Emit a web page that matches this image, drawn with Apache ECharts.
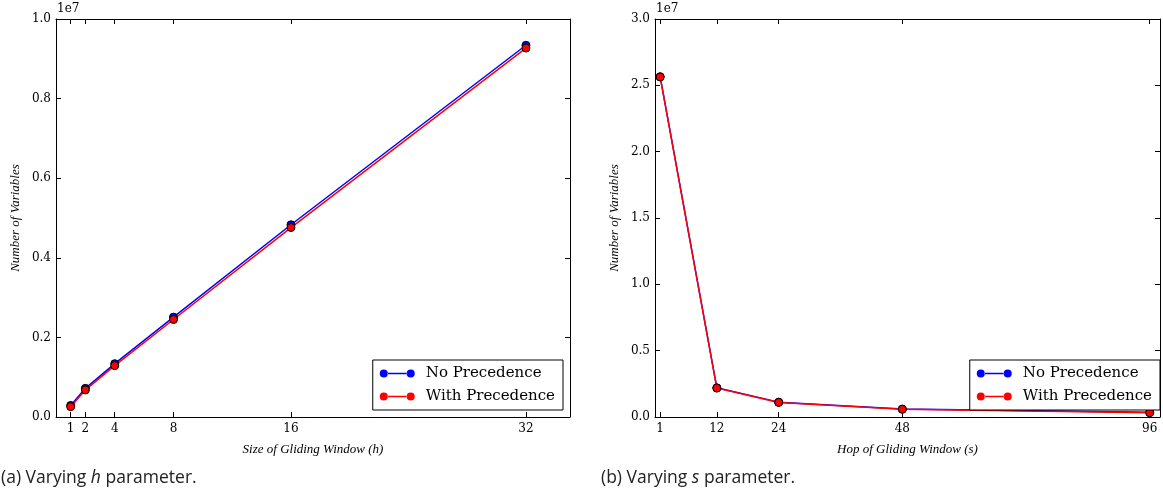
<!DOCTYPE html>
<html>
<head>
<meta charset="utf-8">
<script src="https://cdn.jsdelivr.net/npm/echarts@6/dist/echarts.min.js"></script>
<style>html,body{margin:0;padding:0;background:#fff}#c{width:1163px;height:493px}</style>
</head>
<body>
<div id="c"></div>
<script>
// ---- data ----
const hValues = [1, 2, 4, 8, 16, 32];
const hNoPrec = [0.29e6, 0.72e6, 1.34e6, 2.51e6, 4.83e6, 9.34e6];
const hWithPrec = [0.26e6, 0.68e6, 1.29e6, 2.45e6, 4.76e6, 9.27e6];
const sValues = [1, 12, 24, 48, 96];
const sNoPrec = [2.565e7, 0.22e7, 0.112e7, 0.06e7, 0.035e7];
const sWithPrec = [2.563e7, 0.218e7, 0.11e7, 0.058e7, 0.032e7];
const seriesNames = ['No Precedence', 'With Precedence'];

const serif = 'DejaVu Serif';
const zip = (xs, ys) => xs.map((x, i) => [x, ys[i]]);
const legendIcon = 'path://M0.5,5a4.5,4.5 0 1,0 9,0a4.5,4.5 0 1,0 -9,0Z M9,4.3H31V5.7H9Z M30.5,5a4.5,4.5 0 1,0 9,0a4.5,4.5 0 1,0 -9,0Z';

function xAx(gi, min, max, ticks, name, show) {
  return {
    type: 'value', gridIndex: gi, min: min, max: max,
    position: show ? 'bottom' : 'top',
    name: show ? name : '', nameLocation: 'middle', nameGap: 26,
    nameTextStyle: { fontFamily: 'Liberation Serif', fontStyle: 'italic', fontSize: 13, color: '#000' },
    axisLine: { show: true, onZero: false, lineStyle: { color: '#000', width: 1 } },
    axisTick: { show: true, inside: true, length: 5, customValues: ticks, lineStyle: { color: '#000' } },
    axisLabel: { show: show, customValues: ticks, fontFamily: serif, fontSize: 12, color: '#000', margin: 6 },
    splitLine: { show: false }
  };
}
function yAx(gi, max, interval, name, show) {
  return {
    type: 'value', gridIndex: gi, min: 0, max: max, interval: interval,
    position: show ? 'left' : 'right',
    name: show ? name : '', nameLocation: 'middle', nameGap: 34,
    nameTextStyle: { fontFamily: 'Liberation Serif', fontStyle: 'italic', fontSize: 13, color: '#000' },
    axisLine: { show: true, onZero: false, lineStyle: { color: '#000', width: 1 } },
    axisTick: { show: true, inside: true, length: 5, lineStyle: { color: '#000' } },
    axisLabel: { show: show, fontFamily: serif, fontSize: 12, color: '#000', margin: 5,
      formatter: v => (v / 1e7).toFixed(1) },
    splitLine: { show: false }
  };
}
function ser(name, xi, yi, data, color) {
  return {
    name: name, type: 'line', xAxisIndex: xi, yAxisIndex: yi, data: data,
    symbol: 'circle', symbolSize: 8, showSymbol: true,
    lineStyle: { color: color, width: 1.5 },
    itemStyle: { color: color, borderColor: '#000', borderWidth: 1 },
    emphasis: { disabled: true }, animation: false
  };
}
function legend(right) {
  return {
    data: seriesNames, orient: 'vertical', right: right, bottom: 83,
    icon: legendIcon, itemWidth: 35, itemHeight: 9, itemGap: 8,
    itemStyle: { borderWidth: 0 },
    lineStyle: { opacity: 0, width: 0 },
    backgroundColor: '#fff', borderColor: '#000', borderWidth: 1,
    padding: [6, 8, 6, 7],
    textStyle: { fontFamily: serif, fontSize: 15, color: '#000', padding: [0, 0, 0, 6] },
    selectedMode: false
  };
}

const chart = echarts.init(document.getElementById('c'));
chart.setOption({
  animation: false,
  grid: [
    { left: 56, right: 593, top: 19, bottom: 76 },
    { left: 655, right: 3, top: 19, bottom: 76 }
  ],
  xAxis: [
    xAx(0, 0, 35, hValues, 'Size of Gliding Window (h)', true),
    xAx(0, 0, 35, hValues, '', false),
    xAx(1, 0, 98, sValues, 'Hop of Gliding Window (s)', true),
    xAx(1, 0, 98, sValues, '', false)
  ],
  yAxis: [
    yAx(0, 1.0e7, 0.2e7, 'Number of Variables', true),
    yAx(0, 1.0e7, 0.2e7, '', false),
    yAx(1, 3.0e7, 0.5e7, 'Number of Variables', true),
    yAx(1, 3.0e7, 0.5e7, '', false)
  ],
  legend: [legend(600), legend(3)],
  series: [
    ser(seriesNames[0], 0, 0, zip(hValues, hNoPrec), '#0000ff'),
    ser(seriesNames[1], 0, 0, zip(hValues, hWithPrec), '#ff0000'),
    ser(seriesNames[0], 2, 2, zip(sValues, sNoPrec), '#0000ff'),
    ser(seriesNames[1], 2, 2, zip(sValues, sWithPrec), '#ff0000')
  ],
  graphic: [
    { type: 'text', left: 57, top: 3, style: { text: '1e7', font: '12px "DejaVu Serif"', fill: '#000' } },
    { type: 'text', left: 656, top: 3, style: { text: '1e7', font: '12px "DejaVu Serif"', fill: '#000' } },
    { type: 'text', left: 1, top: 469, style: {
      rich: { n: { fontFamily: 'Open Sans', fontSize: 17.5, fill: '#222' }, i: { fontFamily: 'Open Sans', fontStyle: 'italic', fontSize: 17.5, fill: '#222' } },
      text: '{n|(a) Varying }{i|h}{n| parameter.}' } },
    { type: 'text', left: 601, top: 469, style: {
      rich: { n: { fontFamily: 'Open Sans', fontSize: 17.5, fill: '#222' }, i: { fontFamily: 'Open Sans', fontStyle: 'italic', fontSize: 17.5, fill: '#222' } },
      text: '{n|(b) Varying }{i|s}{n| parameter.}' } }
  ]
});
</script>
</body>
</html>
